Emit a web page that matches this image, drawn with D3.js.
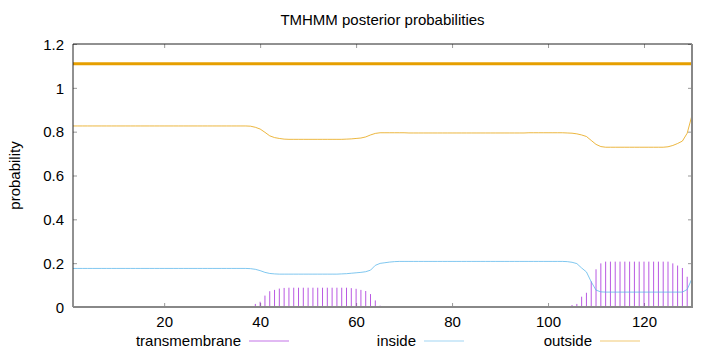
<!DOCTYPE html>
<html>
<head>
<meta charset="utf-8">
<script src="https://cdn.jsdelivr.net/npm/d3@7"></script>
<style>
  body { margin: 0; background: #fff; }
  svg { font-family: "Liberation Sans", Arial, sans-serif; }
  .tick text { font-size: 15px; fill: #000; }
</style>
</head>
<body>
<svg id="chart" width="720" height="352"></svg>
<script>
// posterior probabilities per residue (1..130)
var transmembrane = [
  0, 0, 0, 0, 0, 0, 0, 0, 0, 0,
  0, 0, 0, 0, 0, 0, 0, 0, 0, 0,
  0, 0, 0, 0, 0, 0, 0, 0, 0, 0,
  0, 0, 0, 0, 0, 0, 0.001, 0.004, 0.014, 0.024,
  0.052, 0.072, 0.078, 0.084, 0.087, 0.088, 0.088, 0.088, 0.088, 0.088,
  0.088, 0.088, 0.088, 0.088, 0.088, 0.088, 0.088, 0.088, 0.086, 0.083,
  0.078, 0.073, 0.059, 0.03, 0.006, 0.002, 0.001, 0.001, 0.001, 0.002,
  0.002, 0.002, 0.002, 0.002, 0.002, 0.002, 0.002, 0.002, 0.002, 0.002,
  0.002, 0.002, 0.002, 0.002, 0.002, 0.002, 0.002, 0.002, 0.002, 0.002,
  0.002, 0.002, 0.002, 0.002, 0.002, 0.002, 0.002, 0.002, 0.002, 0.002,
  0.002, 0.002, 0.002, 0.003, 0.009, 0.014, 0.047, 0.065, 0.117, 0.172,
  0.199, 0.207, 0.207, 0.207, 0.207, 0.207, 0.207, 0.207, 0.207, 0.207,
  0.207, 0.207, 0.207, 0.207, 0.207, 0.199, 0.189, 0.178, 0.138, 0.1
];
var inside = [
  0.176, 0.176, 0.176, 0.176, 0.176, 0.176, 0.176, 0.176, 0.176, 0.176,
  0.176, 0.176, 0.176, 0.176, 0.176, 0.176, 0.176, 0.176, 0.176, 0.176,
  0.176, 0.176, 0.176, 0.176, 0.176, 0.176, 0.176, 0.176, 0.176, 0.176,
  0.176, 0.176, 0.176, 0.176, 0.176, 0.176, 0.176, 0.175, 0.172, 0.166,
  0.158, 0.153, 0.151, 0.150, 0.150, 0.150, 0.150, 0.150, 0.150, 0.150,
  0.150, 0.150, 0.150, 0.150, 0.150, 0.150, 0.151, 0.152, 0.154, 0.156,
  0.158, 0.161, 0.168, 0.19, 0.199, 0.202, 0.205, 0.207, 0.208, 0.208,
  0.208, 0.208, 0.208, 0.208, 0.208, 0.208, 0.208, 0.208, 0.208, 0.208,
  0.208, 0.208, 0.208, 0.208, 0.208, 0.208, 0.208, 0.208, 0.208, 0.208,
  0.208, 0.208, 0.208, 0.208, 0.208, 0.208, 0.208, 0.208, 0.208, 0.208,
  0.208, 0.208, 0.208, 0.207, 0.204, 0.198, 0.178, 0.16, 0.115, 0.077,
  0.069, 0.068, 0.068, 0.068, 0.068, 0.068, 0.068, 0.068, 0.068, 0.068,
  0.068, 0.068, 0.068, 0.068, 0.068, 0.068, 0.068, 0.068, 0.08, 0.13
];
var outside = [
  0.826, 0.826, 0.826, 0.826, 0.826, 0.826, 0.826, 0.826, 0.826, 0.826,
  0.826, 0.826, 0.826, 0.826, 0.826, 0.826, 0.826, 0.826, 0.826, 0.826,
  0.826, 0.826, 0.826, 0.826, 0.826, 0.826, 0.826, 0.826, 0.826, 0.826,
  0.826, 0.826, 0.826, 0.826, 0.826, 0.826, 0.826, 0.825, 0.82, 0.812,
  0.797, 0.781, 0.773, 0.769, 0.766, 0.765, 0.765, 0.765, 0.765, 0.765,
  0.765, 0.765, 0.765, 0.765, 0.765, 0.765, 0.765, 0.766, 0.767, 0.769,
  0.771, 0.776, 0.785, 0.792, 0.795, 0.795, 0.795, 0.795, 0.795, 0.795,
  0.794, 0.794, 0.794, 0.794, 0.794, 0.794, 0.794, 0.794, 0.794, 0.794,
  0.794, 0.794, 0.794, 0.794, 0.794, 0.794, 0.794, 0.794, 0.794, 0.794,
  0.794, 0.794, 0.794, 0.794, 0.794, 0.795, 0.795, 0.795, 0.795, 0.795,
  0.795, 0.795, 0.795, 0.794, 0.793, 0.79, 0.785, 0.778, 0.76, 0.742,
  0.732, 0.729, 0.729, 0.729, 0.729, 0.729, 0.729, 0.729, 0.729, 0.729,
  0.729, 0.729, 0.729, 0.729, 0.731, 0.737, 0.746, 0.757, 0.793, 0.875
];
var topLine = 1.11;
var xTicks = [20, 40, 60, 80, 100, 120];
var yTicks = [0, 0.2, 0.4, 0.6, 0.8, 1, 1.2];
var seriesNames = ['transmembrane', 'inside', 'outside'];
var seriesColors = ['#9400d3', '#56b4e9', '#e69f00'];

var svg = d3.select('#chart');
var plotLeft = 73, plotRight = 692, plotTop = 44, plotBottom = 307;

var x = d3.scaleLinear().domain([1, 130]).range([plotLeft, plotRight]);
var y = d3.scaleLinear().domain([0, 1.2]).range([plotBottom, plotTop]);
var idx = d3.range(1, 131);

// title
svg.append('text')
  .attr('x', (plotLeft + plotRight) / 2).attr('y', 25)
  .attr('text-anchor', 'middle')
  .style('font-size', '15px')
  .text('TMHMM posterior probabilities');

// y label
svg.append('text')
  .attr('transform', 'translate(20,' + ((plotTop + plotBottom) / 2) + ') rotate(-90)')
  .attr('text-anchor', 'middle')
  .style('font-size', '15px')
  .text('probability');

// axes
var xAxis = svg.append('g')
  .attr('transform', 'translate(0,' + plotBottom + ')')
  .call(d3.axisBottom(x).tickValues(xTicks).tickSize(-4).tickFormat(d3.format('d')));
var yAxis = svg.append('g')
  .attr('transform', 'translate(' + plotLeft + ',0)')
  .call(d3.axisLeft(y).tickValues(yTicks).tickSize(-4).tickFormat(function(d) { return String(d); }));
// mirrored ticks
svg.append('g')
  .attr('transform', 'translate(' + plotRight + ',0)')
  .call(d3.axisRight(y).tickValues(yTicks).tickSize(-4).tickFormat(''));
svg.append('g')
  .attr('transform', 'translate(0,' + plotTop + ')')
  .call(d3.axisTop(x).tickValues(xTicks).tickSize(-4).tickFormat(''));
svg.selectAll('.domain').remove();
svg.selectAll('.tick line').attr('stroke', '#999');
xAxis.selectAll('.tick text').attr('y', 9).attr('dy', '0.71em');
yAxis.selectAll('.tick text').attr('x', -9).attr('dy', '0.35em');

// transmembrane impulses
svg.append('g')
  .selectAll('line')
  .data(idx).enter().append('line')
    .attr('x1', function(d) { return x(d); })
    .attr('x2', function(d) { return x(d); })
    .attr('y1', y(0))
    .attr('y2', function(d) { return y(transmembrane[d - 1]); })
    .attr('stroke', seriesColors[0])
    .attr('stroke-opacity', 0.65)
    .attr('stroke-width', 1);

var line = d3.line()
  .x(function(d) { return x(d[0]); })
  .y(function(d) { return y(d[1]); });

[inside, outside].forEach(function(vals, k) {
  svg.append('path')
    .datum(idx.map(function(d) { return [d, vals[d - 1]]; }))
    .attr('d', line)
    .attr('fill', 'none')
    .attr('stroke', seriesColors[k + 1])
    .attr('stroke-opacity', 0.75)
    .attr('stroke-width', 1);
});

// thick outside line near the top
svg.append('line')
  .attr('x1', plotLeft).attr('x2', plotRight)
  .attr('y1', y(topLine)).attr('y2', y(topLine))
  .attr('stroke', '#e69f00')
  .attr('stroke-width', 3);

// border
svg.append('line').attr('x1', plotLeft).attr('x2', plotRight).attr('y1', plotTop).attr('y2', plotTop)
  .attr('stroke', '#222').attr('stroke-width', 1);
svg.append('line').attr('x1', plotLeft).attr('x2', plotLeft).attr('y1', plotTop).attr('y2', plotBottom)
  .attr('stroke', '#222').attr('stroke-width', 1);
svg.append('line').attr('x1', plotLeft).attr('x2', plotRight + 1).attr('y1', plotBottom).attr('y2', plotBottom)
  .attr('stroke', '#888').attr('stroke-width', 2);
svg.append('line').attr('x1', plotRight).attr('x2', plotRight).attr('y1', plotTop).attr('y2', plotBottom)
  .attr('stroke', '#888').attr('stroke-width', 2);

// legend
var legendX = [241, 416, 592];
seriesNames.forEach(function(name, i) {
  svg.append('text')
    .attr('x', legendX[i]).attr('y', 346)
    .attr('text-anchor', 'end')
    .style('font-size', '15px')
    .text(name);
  svg.append('line')
    .attr('x1', legendX[i] + 8).attr('x2', legendX[i] + 48)
    .attr('y1', 341).attr('y2', 341)
    .attr('stroke', seriesColors[i])
    .attr('stroke-opacity', 0.55)
    .attr('stroke-width', 1);
});
</script>
</body>
</html>
